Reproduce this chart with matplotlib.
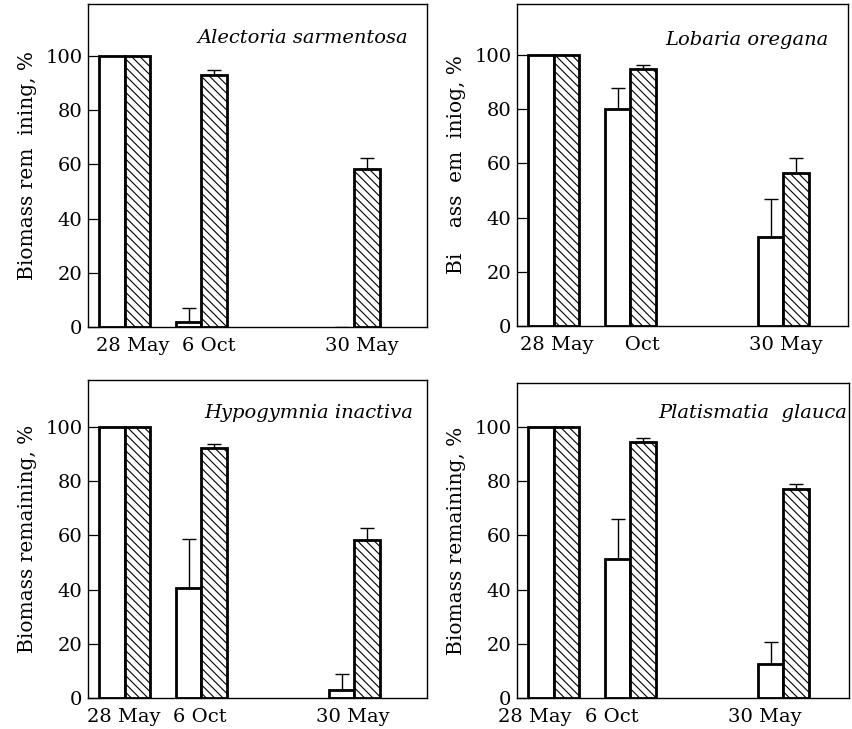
import numpy as np
import matplotlib
matplotlib.use('Agg')
import matplotlib.pyplot as plt

plt.rcParams['font.family'] = ['DejaVu Serif']
plt.rcParams['hatch.linewidth'] = 0.8
plt.rcParams['hatch.color'] = 'black'

# fechas de muestreo (posicion de cada grupo en el eje x)
fechas = ['28 May', '6 Oct', '30 May']
pos_fechas = [0, 3, 9]

especies = ['Alectoria sarmentosa', 'Lobaria oregana',
            'Hypogymnia inactiva', 'Platismatia  glauca']

# biomasa restante (%), barras blancas y barras rayadas
blancas = [[100, 2, 0], [100, 80, 33], [100, 40.7, 3], [100, 51.4, 12.6]]
rayadas = [[100, 93, 58.2], [100, 95, 56.5], [100, 92.4, 58.3], [100, 94.4, 77]]

# error (solo hacia arriba)
err_blancas = [[np.nan, 5, np.nan], [np.nan, 8, 14], [np.nan, 18, 6], [np.nan, 14.5, 8]]
err_rayadas = [[np.nan, 2, 4], [np.nan, 1.2, 5.5], [np.nan, 1.5, 4.5], [np.nan, 1.5, 2]]

etiquetas_y = ['Biomass rem  ining, %', 'Bi    ass  em  iniog, %',
               'Biomass remaining, %', 'Biomass remaining, %']
etiquetas_x = [fechas, ['28 May', '   Oct', '30 May'], fechas, fechas]

# posicion de cada panel en pixeles: izquierda, arriba, ancho, alto
W, H = 852, 729
paneles = [(88, 4, 339, 323), (517, 4, 331, 322),
           (88, 380, 339, 318), (517, 383, 332, 315)]
desp_x = [0.3, 0.1, -0.05, -0.75]
pos_titulo = [(0.944, 0.879), (0.94, 0.873), (0.959, 0.88), (0.994, 0.889)]

fig = plt.figure(figsize=(W / 100, H / 100), dpi=100)

for i in range(4):
    l, t, w, h = paneles[i]
    ax = fig.add_axes([l / W, (H - t - h) / H, w / W, h / H])
    x = np.array(pos_fechas, dtype=float)
    b = np.array(blancas[i], dtype=float)
    r = np.array(rayadas[i], dtype=float)
    m = b > 0
    ax.bar(x[m] - 0.5, b[m], width=1, facecolor='white', edgecolor='black',
           linewidth=2, zorder=2)
    ax.bar(x - 0.5 + 1, r, width=1, facecolor='white', edgecolor='black',
           linewidth=2, hatch='\\\\\\\\', zorder=2)
    eb = np.array(err_blancas[i])
    er = np.array(err_rayadas[i])
    ax.errorbar(x - 0.5, b, yerr=[np.zeros(3), eb], fmt='none', ecolor='black',
                elinewidth=1, capsize=5, capthick=1, zorder=1)
    ax.errorbar(x + 0.5, r, yerr=[np.zeros(3), er], fmt='none', ecolor='black',
                elinewidth=1, capsize=5, capthick=1, zorder=1)

    ax.set_xlim(-1.45, -1.45 + w / 25.5)
    ax.set_ylim(0, h / 2.71)
    ax.set_yticks([0, 20, 40, 60, 80, 100])
    ax.set_xticks(x + desp_x[i])
    ax.set_xticklabels(etiquetas_x[i])
    ax.tick_params(axis='y', direction='in', length=9, width=0.9,
                   labelsize=14, pad=4)
    ax.tick_params(axis='x', length=0, labelsize=14, pad=7)
    ax.set_ylabel(etiquetas_y[i], fontsize=14.5, labelpad=6)
    for s in ax.spines.values():
        s.set_linewidth(1)
    tx, ty = pos_titulo[i]
    ax.text(tx, ty, especies[i], transform=ax.transAxes, ha='right',
            va='baseline', fontsize=14, style='italic')

plt.savefig('out.png', dpi=100)
